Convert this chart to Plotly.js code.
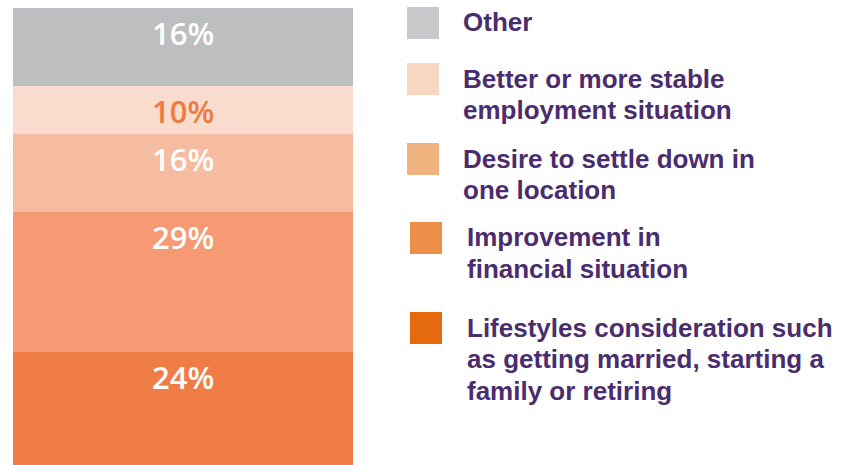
<!DOCTYPE html>
<html>
<head>
<meta charset="utf-8">
<script src="https://cdn.plot.ly/plotly-3.0.1.min.js"></script>
<style>html,body{margin:0;padding:0;background:#fff;}#chart{width:844px;height:465px;}</style>
</head>
<body>
<div id="chart"></div>
<script>
// ---- data (bottom of the stack first) ----
const categories = [
  "Lifestyles consideration such\nas getting married, starting a\nfamily or retiring",
  "Improvement in\nfinancial situation",
  "Desire to settle down in\none location",
  "Better or more stable\nemployment situation",
  "Other"
];
const values = [24, 29, 16, 10, 16];
const valueLabels = ["24%", "29%", "16%", "10%", "16%"];
const barColors = ["#F17D46", "#F59A73", "#F6BCA2", "#F9DCCE", "#BCBEC0"];
const legendColors = ["#E4690F", "#EC8F48", "#F0B380", "#F8D8C2", "#C7C8CA"];
const labelColors = ["#FFFFFF", "#FFFFFF", "#FFFFFF", "#EE7A3E", "#FFFFFF"];

// ---- layout constants ----
const W = 844, H = 465, ML = 13, MT = 8, MB = 0;
const plotW = W - ML, plotH = H - MT - MB;
const px2x = p => (p - ML) / plotW;
const py2y = p => (H - MB - p) / plotH;

const traces = categories.map((c, i) => ({
  type: "bar",
  x: ["all"],
  y: [values[i]],
  name: c,
  width: 1,
  marker: {color: barColors[i], line: {width: 0}},
  hoverinfo: "skip",
  showlegend: false
}));

const annotations = [];
const shapes = [];
let cum = 0;
values.forEach((v, i) => {
  cum += v;
  annotations.push({
    xref: "x", yref: "y", x: "all", y: cum,
    text: valueLabels[i], showarrow: false,
    yanchor: "middle", yshift: -25,
    font: {family: "Open Sans", size: 31, color: labelColors[i], weight: 600}
  });
});

// custom legend (top entry first)
const legendTop = [7, 63, 143, 222, 312];
const legendSqX = [407, 407, 407, 410, 410];
const legendTxtX = [461, 461, 461, 465, 465];
const order = [4, 3, 2, 1, 0];
const lineStep = 31.5;
order.forEach((idx, k) => {
  const top = legendTop[k];
  shapes.push({
    type: "rect", xref: "paper", yref: "paper",
    x0: px2x(legendSqX[k]), x1: px2x(legendSqX[k] + 32),
    y0: py2y(top + 32), y1: py2y(top),
    fillcolor: legendColors[idx], line: {width: 0}
  });
  const lines = categories[idx].split("\n");
  lines.forEach((ln, j) => {
    const cy = top + 15.5 + j * lineStep;
    annotations.push({
      xref: "paper", yref: "paper",
      x: px2x(legendTxtX[k]), y: py2y(cy),
      xanchor: "left", yanchor: "middle",
      text: ln, showarrow: false,
      font: {family: "Liberation Sans, Arial, sans-serif", size: 26, color: "#4B2D6E", weight: 700}
    });
  });
});

const layout = {
  width: W, height: H,
  margin: {l: ML, r: 0, t: MT, b: MB, pad: 0},
  paper_bgcolor: "#ffffff", plot_bgcolor: "#ffffff",
  barmode: "stack",
  bargap: 0,
  showlegend: false,
  xaxis: {domain: [0, 340 / plotW], range: [-0.5, 0.5], visible: false, fixedrange: true},
  yaxis: {range: [0.8, 95], visible: false, fixedrange: true},
  annotations: annotations,
  shapes: shapes
};

Plotly.newPlot("chart", traces, layout, {displayModeBar: false, staticPlot: true});
</script>
</body>
</html>
